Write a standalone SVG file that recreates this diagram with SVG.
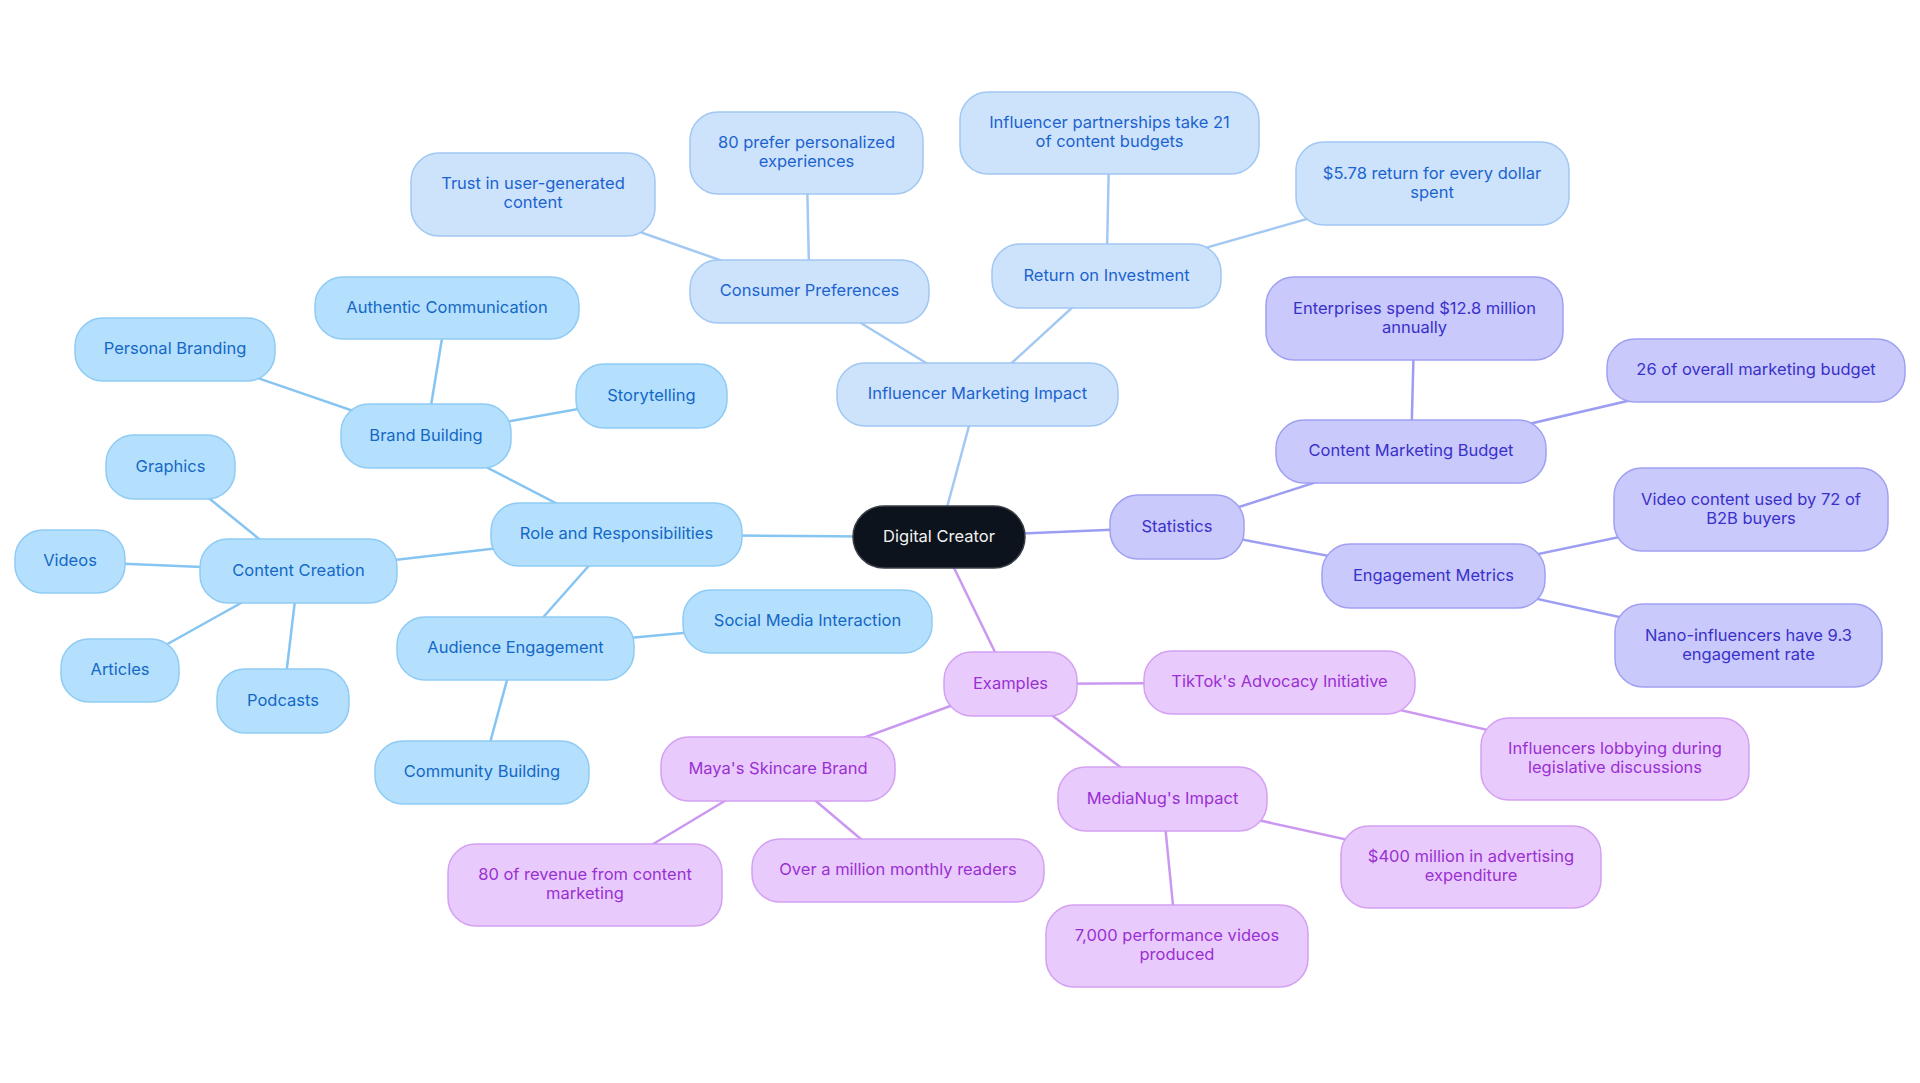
<svg xmlns="http://www.w3.org/2000/svg" width="1920" height="1083" viewBox="0 0 1920 1083">
<style>
text{font-family:Inter,"Noto Sans","Liberation Sans",sans-serif;font-size:16.5px;text-anchor:middle;dominant-baseline:central;transform:translateY(-1.5px)}
.e{fill:none;stroke-width:2.5}
.eb{stroke:#86c5f2}.ei{stroke:#a3c9f2}.es{stroke:#9d9ef2}.ex{stroke:#cb98f1}
.b rect{fill:#b4e0fd;stroke:#8fcbf4;stroke-width:1.5}.b text{fill:#1468c6}
.i rect{fill:#cde3fb;stroke:#a1c7f2;stroke-width:1.5}.i text{fill:#1c63cf}
.s rect{fill:#c9c9fc;stroke:#a0a0f2;stroke-width:1.5}.s text{fill:#3a31c9}
.x rect{fill:#e8cbfc;stroke:#d4a0f2;stroke-width:1.5}.x text{fill:#9a30d2}
.r rect{fill:#0d131c;stroke:#3a3f47;stroke-width:1.5}.r text{fill:#f2f2f2}
</style>
<rect width="1920" height="1083" fill="#ffffff"/>
<g id="connectors">
<line class="e eb" x1="939" y1="537" x2="616.5" y2="534.5"/>
<line class="e ei" x1="939" y1="537" x2="977.5" y2="394.5"/>
<line class="e es" x1="939" y1="537" x2="1177" y2="527"/>
<line class="e ex" x1="939" y1="537" x2="1010.5" y2="684"/>
<line class="e eb" x1="616.5" y1="534.5" x2="426" y2="436"/>
<line class="e eb" x1="616.5" y1="534.5" x2="298.5" y2="571"/>
<line class="e eb" x1="616.5" y1="534.5" x2="515.5" y2="648.5"/>
<line class="e eb" x1="426" y1="436" x2="175" y2="349.5"/>
<line class="e eb" x1="426" y1="436" x2="447" y2="308"/>
<line class="e eb" x1="426" y1="436" x2="651.5" y2="396"/>
<line class="e eb" x1="298.5" y1="571" x2="170.5" y2="467"/>
<line class="e eb" x1="298.5" y1="571" x2="70" y2="561.5"/>
<line class="e eb" x1="298.5" y1="571" x2="120" y2="670.5"/>
<line class="e eb" x1="298.5" y1="571" x2="283" y2="701"/>
<line class="e eb" x1="515.5" y1="648.5" x2="807.5" y2="621.5"/>
<line class="e eb" x1="515.5" y1="648.5" x2="482" y2="772.5"/>
<line class="e ei" x1="977.5" y1="394.5" x2="809.5" y2="291.5"/>
<line class="e ei" x1="977.5" y1="394.5" x2="1106.5" y2="276"/>
<line class="e ei" x1="809.5" y1="291.5" x2="533" y2="194.5"/>
<line class="e ei" x1="809.5" y1="291.5" x2="806.5" y2="153"/>
<line class="e ei" x1="1106.5" y1="276" x2="1109.5" y2="133"/>
<line class="e ei" x1="1106.5" y1="276" x2="1432" y2="183.5"/>
<line class="e es" x1="1177" y1="527" x2="1411" y2="451.5"/>
<line class="e es" x1="1177" y1="527" x2="1433.5" y2="576"/>
<line class="e es" x1="1411" y1="451.5" x2="1414.5" y2="318.5"/>
<line class="e es" x1="1411" y1="451.5" x2="1756" y2="371"/>
<line class="e es" x1="1433.5" y1="576" x2="1751" y2="509.5"/>
<line class="e es" x1="1433.5" y1="576" x2="1748.5" y2="645.5"/>
<line class="e ex" x1="1010.5" y1="684" x2="1279.5" y2="682.5"/>
<line class="e ex" x1="1010.5" y1="684" x2="1162.5" y2="799"/>
<line class="e ex" x1="1010.5" y1="684" x2="778" y2="769"/>
<line class="e ex" x1="1279.5" y1="682.5" x2="1615" y2="759"/>
<line class="e ex" x1="1162.5" y1="799" x2="1471" y2="867"/>
<line class="e ex" x1="1162.5" y1="799" x2="1177" y2="946"/>
<line class="e ex" x1="778" y1="769" x2="898" y2="870.5"/>
<line class="e ex" x1="778" y1="769" x2="585" y2="885"/>
</g>
<g id="n-root" class="r"><rect x="853" y="506" width="172" height="62" rx="31"/><text x="939" y="537">Digital Creator</text></g>
<g id="n-role" class="b"><rect x="491" y="503" width="251" height="63" rx="28"/><text x="616.5" y="534.5">Role and Responsibilities</text></g>
<g id="n-brand" class="b"><rect x="341" y="404" width="170" height="64" rx="28"/><text x="426" y="436">Brand Building</text></g>
<g id="n-personal" class="b"><rect x="75" y="318" width="200" height="63" rx="28"/><text x="175" y="349.5">Personal Branding</text></g>
<g id="n-authentic" class="b"><rect x="315" y="277" width="264" height="62" rx="28"/><text x="447" y="308">Authentic Communication</text></g>
<g id="n-story" class="b"><rect x="576" y="364" width="151" height="64" rx="28"/><text x="651.5" y="396">Storytelling</text></g>
<g id="n-content" class="b"><rect x="200" y="539" width="197" height="64" rx="28"/><text x="298.5" y="571">Content Creation</text></g>
<g id="n-graphics" class="b"><rect x="106" y="435" width="129" height="64" rx="28"/><text x="170.5" y="467">Graphics</text></g>
<g id="n-videos" class="b"><rect x="15" y="530" width="110" height="63" rx="28"/><text x="70" y="561.5">Videos</text></g>
<g id="n-articles" class="b"><rect x="61" y="639" width="118" height="63" rx="28"/><text x="120" y="670.5">Articles</text></g>
<g id="n-podcasts" class="b"><rect x="217" y="669" width="132" height="64" rx="28"/><text x="283" y="701">Podcasts</text></g>
<g id="n-audience" class="b"><rect x="397" y="617" width="237" height="63" rx="28"/><text x="515.5" y="648.5">Audience Engagement</text></g>
<g id="n-social" class="b"><rect x="683" y="590" width="249" height="63" rx="28"/><text x="807.5" y="621.5">Social Media Interaction</text></g>
<g id="n-community" class="b"><rect x="375" y="741" width="214" height="63" rx="28"/><text x="482" y="772.5">Community Building</text></g>
<g id="n-influencer" class="i"><rect x="837" y="363" width="281" height="63" rx="28"/><text x="977.5" y="394.5">Influencer Marketing Impact</text></g>
<g id="n-consumer" class="i"><rect x="690" y="260" width="239" height="63" rx="28"/><text x="809.5" y="291.5">Consumer Preferences</text></g>
<g id="n-trust" class="i"><rect x="411" y="153" width="244" height="83" rx="28"/><text x="533" y="184.5">Trust in user-generated</text><text x="533" y="203.5">content</text></g>
<g id="n-prefer" class="i"><rect x="690" y="112" width="233" height="82" rx="28"/><text x="806.5" y="143.5">80 prefer personalized</text><text x="806.5" y="162.5">experiences</text></g>
<g id="n-roi" class="i"><rect x="992" y="244" width="229" height="64" rx="28"/><text x="1106.5" y="276">Return on Investment</text></g>
<g id="n-partner" class="i"><rect x="960" y="92" width="299" height="82" rx="28"/><text x="1109.5" y="123.5">Influencer partnerships take 21</text><text x="1109.5" y="142.5">of content budgets</text></g>
<g id="n-return" class="i"><rect x="1296" y="142" width="273" height="83" rx="28"/><text x="1432" y="174">$5.78 return for every dollar</text><text x="1432" y="193">spent</text></g>
<g id="n-stats" class="s"><rect x="1110" y="495" width="134" height="64" rx="28"/><text x="1177" y="527">Statistics</text></g>
<g id="n-cmb" class="s"><rect x="1276" y="420" width="270" height="63" rx="28"/><text x="1411" y="451.5">Content Marketing Budget</text></g>
<g id="n-enterprise" class="s"><rect x="1266" y="277" width="297" height="83" rx="28"/><text x="1414.5" y="309">Enterprises spend $12.8 million</text><text x="1414.5" y="328">annually</text></g>
<g id="n-26" class="s"><rect x="1607" y="339" width="298" height="63" rx="28"/><text x="1756" y="370.5">26 of overall marketing budget</text></g>
<g id="n-engage" class="s"><rect x="1322" y="544" width="223" height="64" rx="28"/><text x="1433.5" y="576">Engagement Metrics</text></g>
<g id="n-video" class="s"><rect x="1614" y="468" width="274" height="83" rx="28"/><text x="1751" y="500">Video content used by 72 of</text><text x="1751" y="519">B2B buyers</text></g>
<g id="n-nano" class="s"><rect x="1615" y="604" width="267" height="83" rx="28"/><text x="1748.5" y="636">Nano-influencers have 9.3</text><text x="1748.5" y="655">engagement rate</text></g>
<g id="n-examples" class="x"><rect x="944" y="652" width="133" height="64" rx="28"/><text x="1010.5" y="684">Examples</text></g>
<g id="n-tiktok" class="x"><rect x="1144" y="651" width="271" height="63" rx="28"/><text x="1279.5" y="682.5">TikTok's Advocacy Initiative</text></g>
<g id="n-lobby" class="x"><rect x="1481" y="718" width="268" height="82" rx="28"/><text x="1615" y="749.5">Influencers lobbying during</text><text x="1615" y="768.5">legislative discussions</text></g>
<g id="n-medianug" class="x"><rect x="1058" y="767" width="209" height="64" rx="28"/><text x="1162.5" y="799">MediaNug's Impact</text></g>
<g id="n-400" class="x"><rect x="1341" y="826" width="260" height="82" rx="28"/><text x="1471" y="857.5">$400 million in advertising</text><text x="1471" y="876.5">expenditure</text></g>
<g id="n-7000" class="x"><rect x="1046" y="905" width="262" height="82" rx="28"/><text x="1177" y="936.5">7,000 performance videos</text><text x="1177" y="955.5">produced</text></g>
<g id="n-maya" class="x"><rect x="661" y="737" width="234" height="64" rx="28"/><text x="778" y="769">Maya's Skincare Brand</text></g>
<g id="n-million" class="x"><rect x="752" y="839" width="292" height="63" rx="28"/><text x="898" y="870.5">Over a million monthly readers</text></g>
<g id="n-revenue" class="x"><rect x="448" y="844" width="274" height="82" rx="28"/><text x="585" y="875.5">80 of revenue from content</text><text x="585" y="894.5">marketing</text></g>
</svg>
